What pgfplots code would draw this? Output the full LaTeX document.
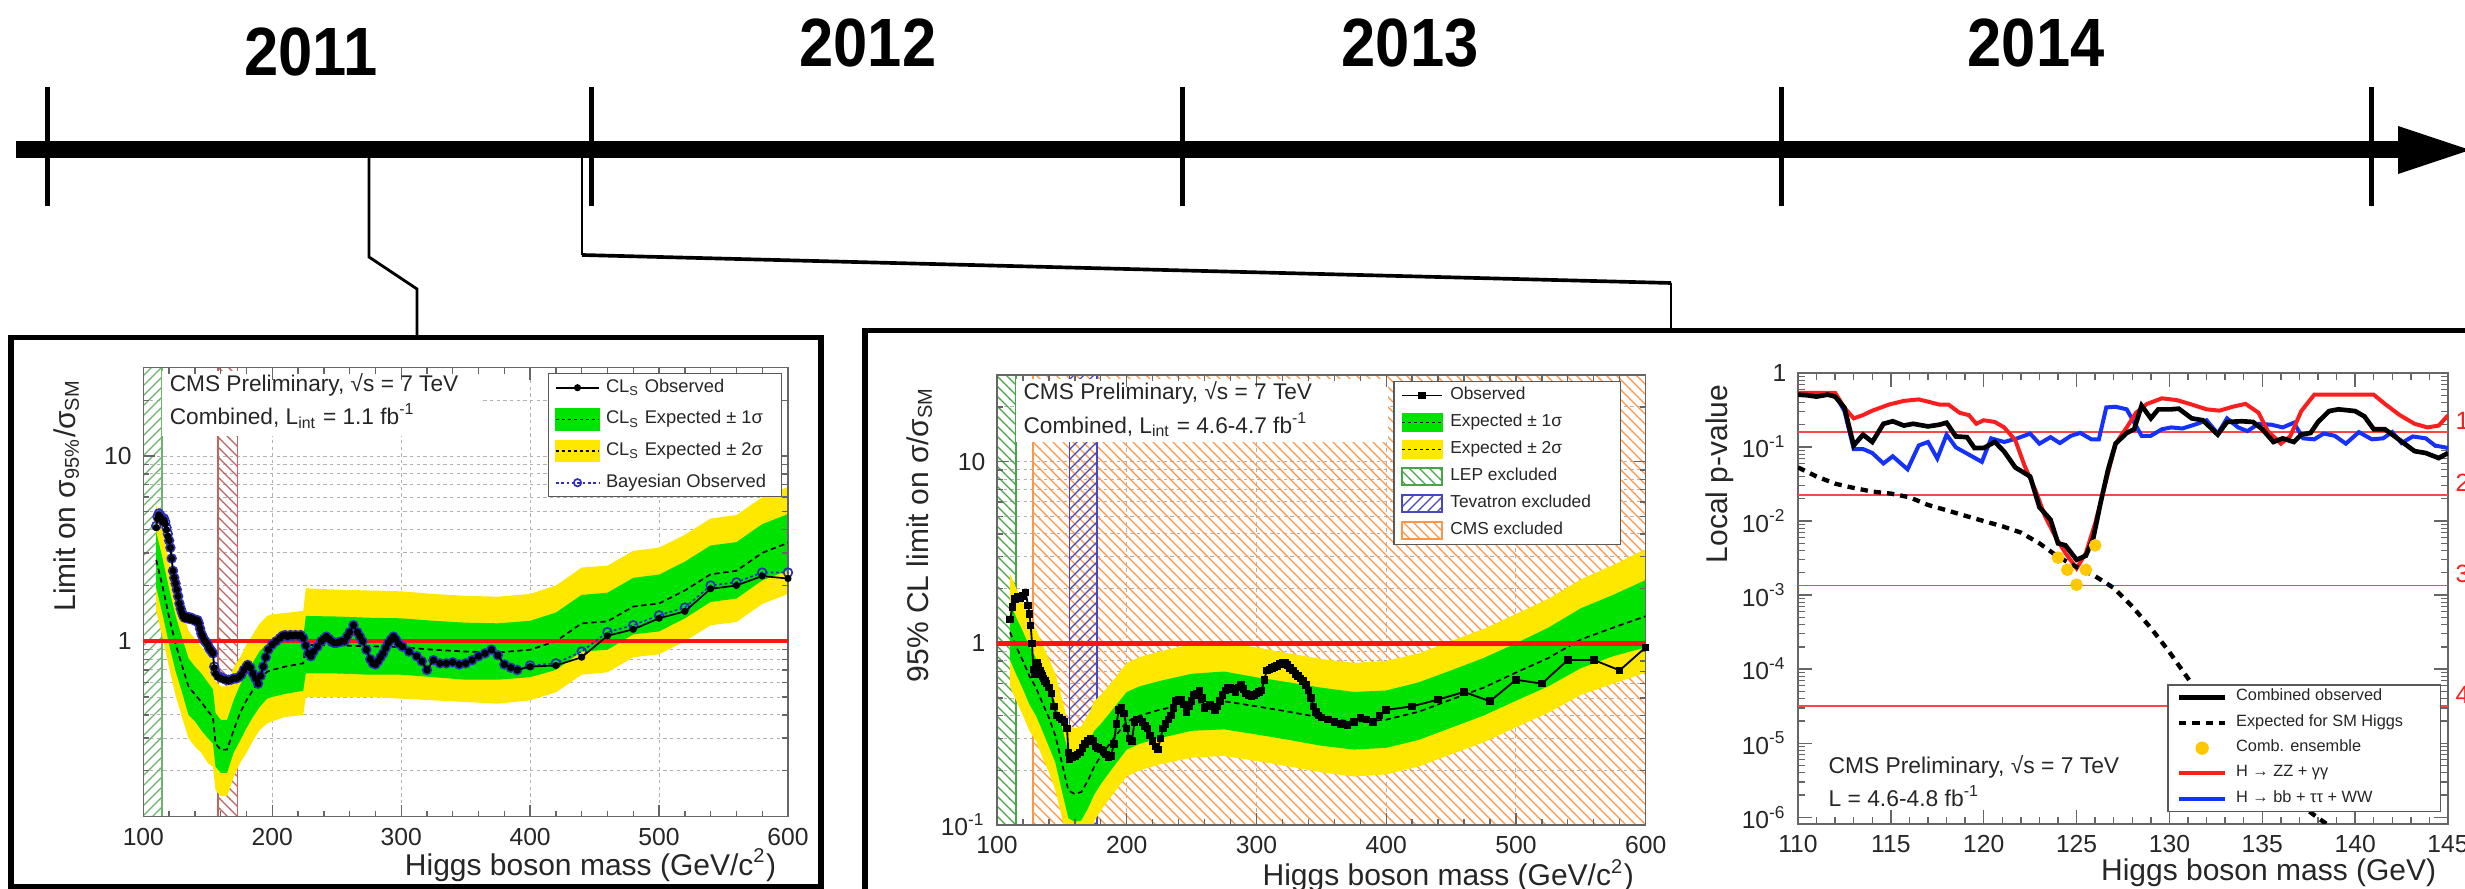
\documentclass[border=0pt]{standalone}
\usepackage{fontspec}
\setmainfont{Liberation Sans}
\newfontfamily\yearfont{Liberation Sans}[FakeStretch=0.9]
\usepackage{pgfplots}
\pgfplotsset{compat=1.18}
\usepackage{pgfplotstable}
\usepgfplotslibrary{fillbetween}
\usetikzlibrary{patterns}

\definecolor{bandgreen}{RGB}{0,226,0}
\definecolor{bandyellow}{RGB}{255,232,0}
\definecolor{limred}{RGB}{255,20,20}
\definecolor{lepA}{RGB}{110,180,110}
\definecolor{tevA}{RGB}{190,100,100}
\definecolor{lepB}{RGB}{70,165,70}
\definecolor{tevB}{RGB}{70,70,200}
\definecolor{cmsB}{RGB}{255,150,70}
\definecolor{bayes}{RGB}{45,45,190}
\definecolor{pred}{RGB}{250,30,30}
\definecolor{pblue}{RGB}{20,50,250}
\definecolor{sigred}{RGB}{255,70,70}
\definecolor{ensemble}{RGB}{255,200,0}

\newcommand\ls{\rule[-1.3pt]{0pt}{5.4pt}}
\newcommand\lsb{\rule[-1.2pt]{0pt}{4.8pt}}

\pgfplotsset{
  /pgf/number format/assume math mode=true,
  layers/rootlayers/.define layer set={
    axis background,axis grid,pre main,axis ticks,axis lines,axis tick labels,main,axis descriptions,axis foreground
  }{
    grid style={/pgfplots/on layer=axis grid},
    tick style={/pgfplots/on layer=axis ticks},
    axis line style={/pgfplots/on layer=axis lines},
    label style={/pgfplots/on layer=axis descriptions},
    legend style={/pgfplots/on layer=axis descriptions},
    title style={/pgfplots/on layer=axis descriptions},
    colorbar style={/pgfplots/on layer=axis descriptions},
    ticklabel style={/pgfplots/on layer=axis tick labels},
    axis background@ style={/pgfplots/on layer=axis background},
    3d box foreground style={/pgfplots/on layer=axis foreground},
  },
  leg line/.style={legend image code/.code={%
      \draw[mark repeat=2,mark phase=2,##1] plot coordinates {(0pt,0pt) (#1/2,0pt) (#1,0pt)};}},
  leg box/.style n args={3}{legend image code/.code={%
      \fill[#1] (0pt,-#3) rectangle (#2,#3);
      \draw[black, line width=0.45pt, dash pattern=on 0.9pt off 0.9pt] (0pt,0pt) -- (#2,0pt);}},
  leg hatch/.style n args={3}{legend image code/.code={%
      \draw[#1, line width=0.5pt, pattern=#3, pattern color=#1] (0pt,-2.6pt) rectangle (#2,2.6pt);}},
  leg dot/.style={legend image code/.code={\fill[ensemble] (6.9pt,0pt) circle (1.8pt);}},
  rootframe/.style={
    set layers=rootlayers, clip mode=individual,
    scale only axis, anchor=south west,
    tick align=inside, major tick length=3.6pt, minor tick length=1.8pt,
    axis line style={black!60, line width=0.45pt},
    tick style={black!60, line width=0.4pt},
    tick label style={font=\fontsize{7.4}{8}\selectfont, text=black!85},
    label style={font=\fontsize{9}{10}\selectfont, text=black!85},
    grid style={gray!60, line width=0.3pt, dash pattern=on 1pt off 1pt},
    legend cell align=left,
  },
}

% ---------------- 2011 combination ----------------
\pgfplotstableread{
m med lo2 lo1 hi1 hi2
110 2.75 1.46 1.95 3.9 5.5
115 1.96 1.04 1.39 2.78 3.92
120 1.35 0.72 0.96 1.92 2.70
125 0.97 0.51 0.69 1.38 1.94
130 0.74 0.39 0.53 1.05 1.48
135 0.57 0.30 0.40 0.81 1.14
140 0.516 0.27 0.37 0.73 1.03
145 0.47 0.25 0.33 0.67 0.94
150 0.42 0.22 0.30 0.60 0.84
154 0.39 0.21 0.28 0.55 0.78
156 0.28 0.157 0.21 0.41 0.61
160 0.26 0.146 0.195 0.377 0.57
165 0.26 0.146 0.195 0.377 0.57
170 0.33 0.185 0.25 0.48 0.72
175 0.41 0.22 0.29 0.58 0.82
180 0.48 0.25 0.34 0.68 0.96
185 0.545 0.29 0.39 0.77 1.09
190 0.62 0.33 0.44 0.88 1.24
196 0.685 0.36 0.49 0.97 1.37
200 0.70 0.37 0.50 0.96 1.40
210 0.73 0.39 0.52 1.00 1.42
224 0.76 0.40 0.54 1.04 1.46
226 0.955 0.50 0.67 1.37 1.93
250 0.95 0.50 0.67 1.36 1.90
275 0.94 0.50 0.66 1.34 1.88
300 0.93 0.49 0.66 1.33 1.86
325 0.90 0.48 0.64 1.29 1.80
350 0.88 0.47 0.62 1.26 1.76
375 0.87 0.46 0.62 1.25 1.74
400 0.90 0.48 0.64 1.29 1.80
420 1.0 0.53 0.70 1.43 2.0
440 1.25 0.66 0.88 1.78 2.5
460 1.28 0.68 0.90 1.83 2.56
480 1.54 0.82 1.09 2.2 3.08
500 1.6 0.85 1.13 2.29 3.2
520 1.88 1.0 1.33 2.69 3.76
540 2.3 1.22 1.63 3.29 4.6
560 2.4 1.27 1.70 3.43 4.8
580 3.0 1.59 2.13 4.29 6.0
600 3.4 1.80 2.41 4.86 6.8
}\expOne

\pgfplotstableread{
m cls bay
110 4.1 4.2
111 4.6 4.7
112 4.8 4.9
113 4.7 4.8
114 4.6 4.7
115 4.4 4.5
116 4.5 4.6
117 4.3 4.4
118 4.0 4.1
119 3.7 3.8
120 3.5 3.5
121 3.2 3.2
122 2.8 2.8
123 2.4 2.4
124 2.2 2.2
125 2.05 2.05
126 1.9 1.9
127 1.75 1.75
128 1.6 1.6
129 1.5 1.5
130 1.42 1.43
131 1.36 1.37
132 1.33 1.34
133 1.36 1.36
134 1.32 1.33
135 1.35 1.35
136 1.31 1.32
137 1.34 1.34
138 1.30 1.31
139 1.32 1.32
140 1.29 1.30
141 1.28 1.28
142 1.30 1.30
143 1.25 1.25
144 1.17 1.17
145 1.10 1.10
146 1.06 1.06
147 1.02 1.02
148 1.0 1.0
149 0.98 0.98
150 0.96 0.96
151 0.92 0.92
152 0.90 0.90
153 0.88 0.88
154 0.86 0.86
155 0.72 0.73
156 0.67 0.68
158 0.64 0.65
160 0.63 0.64
162 0.62 0.63
164 0.62 0.62
166 0.61 0.62
168 0.62 0.62
170 0.63 0.63
172 0.63 0.63
174 0.64 0.64
176 0.66 0.66
178 0.70 0.70
180 0.73 0.73
181 0.745 0.745
183 0.72 0.72
185 0.67 0.67
187 0.63 0.63
189 0.59 0.59
191 0.65 0.65
193 0.73 0.73
195 0.82 0.82
197 0.90 0.90
200 0.96 0.96
203 1.0 1.0
206 1.04 1.04
208 1.07 1.07
210 1.08 1.08
212 1.06 1.06
214 1.08 1.08
216 1.07 1.07
218 1.08 1.08
220 1.07 1.07
222 1.08 1.08
224 1.04 1.04
226 0.95 0.95
228 0.86 0.86
230 0.83 0.83
232 0.88 0.88
235 0.935 0.935
238 1.0 1.0
240 1.03 1.03
242 1.06 1.06
244 1.03 1.03
246 1.0 1.0
248 0.98 0.98
250 0.98 0.98
252 0.99 0.99
254 1.0 1.0
256 1.0 1.0
258 1.06 1.06
260 1.12 1.12
263 1.22 1.22
266 1.12 1.12
268 1.06 1.06
270 1.0 1.0
273 0.90 0.90
276 0.80 0.80
278 0.76 0.76
280 0.75 0.75
282 0.78 0.78
284 0.82 0.82
286 0.86 0.86
288 0.92 0.92
290 0.98 0.98
292 1.02 1.02
294 1.06 1.06
296 1.02 1.02
298 0.97 0.97
301 0.935 0.935
306 0.88 0.88
312 0.83 0.83
316 0.78 0.78
320 0.70 0.70
325 0.79 0.79
330 0.76 0.76
335 0.76 0.76
340 0.77 0.77
345 0.75 0.75
350 0.76 0.76
355 0.79 0.79
360 0.83 0.83
365 0.86 0.86
370 0.90 0.90
375 0.84 0.84
380 0.75 0.75
385 0.72 0.72
390 0.70 0.70
400 0.73 0.74
420 0.74 0.76
440 0.82 0.88
460 1.07 1.12
480 1.16 1.22
500 1.33 1.38
520 1.45 1.52
540 1.92 2.0
560 2.0 2.08
580 2.25 2.35
600 2.18 2.35
}\obsOne

% ---------------- 2011/2012 combination ----------------
\pgfplotstableread{
m med lo2 lo1 hi1 hi2
110 1.15 0.58 0.81 1.67 2.42
115 0.95 0.48 0.67 1.38 2.0
120 0.80 0.40 0.56 1.16 1.68
125 0.66 0.33 0.46 0.96 1.39
130 0.57 0.29 0.40 0.83 1.20
135 0.47 0.235 0.33 0.68 0.99
140 0.39 0.195 0.27 0.57 0.82
145 0.31 0.155 0.22 0.47 0.68
150 0.22 0.11 0.154 0.35 0.50
155 0.155 0.078 0.109 0.25 0.36
160 0.148 0.074 0.104 0.237 0.34
165 0.152 0.076 0.106 0.243 0.35
170 0.175 0.088 0.123 0.28 0.40
175 0.21 0.105 0.147 0.33 0.48
180 0.24 0.12 0.168 0.36 0.52
190 0.30 0.15 0.21 0.44 0.63
200 0.37 0.185 0.26 0.54 0.78
210 0.40 0.20 0.28 0.58 0.84
225 0.43 0.215 0.30 0.62 0.90
250 0.47 0.235 0.33 0.68 0.99
275 0.48 0.24 0.336 0.70 1.01
300 0.45 0.225 0.315 0.65 0.95
325 0.42 0.21 0.294 0.61 0.88
350 0.39 0.195 0.273 0.57 0.82
375 0.37 0.185 0.26 0.54 0.78
400 0.38 0.19 0.266 0.55 0.80
425 0.42 0.21 0.294 0.61 0.88
450 0.49 0.245 0.343 0.71 1.03
475 0.57 0.285 0.40 0.83 1.20
500 0.69 0.345 0.483 1.0 1.45
525 0.83 0.415 0.58 1.22 1.76
550 1.05 0.52 0.73 1.56 2.25
575 1.22 0.60 0.85 1.85 2.7
600 1.41 0.69 0.95 2.23 3.3
}\expTwo

\pgfplotstableread{
m obs
110 1.35
112 1.58
114 1.75
116 1.80
118 1.78
120 1.82
122 1.90
124 1.62
125 1.45
126 1.25
127 1.0
128 0.72
129 0.68
130 0.74
131 0.78
132 0.74
133 0.71
134 0.68
135 0.66
136 0.64
137 0.62
138 0.60
140 0.57
142 0.53
144 0.45
146 0.40
148 0.39
150 0.38
152 0.37
154 0.34
155 0.25
156 0.23
158 0.235
160 0.24
162 0.245
164 0.25
166 0.265
168 0.28
170 0.29
172 0.30
174 0.29
176 0.27
178 0.265
180 0.26
182 0.255
184 0.245
186 0.235
188 0.24
190 0.28
192 0.36
194 0.43
196 0.44
198 0.41
200 0.34
202 0.30
204 0.29
206 0.37
208 0.38
210 0.38
212 0.37
214 0.35
216 0.34
218 0.31
220 0.29
222 0.27
224 0.26
226 0.30
228 0.34
230 0.36
232 0.38
234 0.40
236 0.44
238 0.48
240 0.49
242 0.49
244 0.46
246 0.42
248 0.45
250 0.48
252 0.52
254 0.53
256 0.55
258 0.50
260 0.44
262 0.45
264 0.46
266 0.45
268 0.43
270 0.45
272 0.48
274 0.52
276 0.55
278 0.57
280 0.57
282 0.56
284 0.54
286 0.57
288 0.59
290 0.56
292 0.53
294 0.52
296 0.51
298 0.52
300 0.53
302 0.54
304 0.55
306 0.63
308 0.71
310 0.72
312 0.73
314 0.74
316 0.75
318 0.77
320 0.78
322 0.78
324 0.76
326 0.73
328 0.71
330 0.68
332 0.66
334 0.64
336 0.62
338 0.59
340 0.55
342 0.50
344 0.45
346 0.42
348 0.40
350 0.39
355 0.38
360 0.37
365 0.36
370 0.355
375 0.37
380 0.39
385 0.38
390 0.37
395 0.40
400 0.43
420 0.45
440 0.49
460 0.54
480 0.48
500 0.63
520 0.60
540 0.81
560 0.81
580 0.71
600 0.95
}\obsTwo

% ---------------- local p-values ----------------
\pgfplotstableread{
m p
110 0.51
110.5 0.50
111 0.48
111.6 0.51
112 0.48
112.5 0.34
113 0.105
113.5 0.147
114 0.117
114.6 0.206
115.1 0.223
115.7 0.195
116.2 0.206
117 0.19
117.6 0.20
118 0.213
118.5 0.139
119.1 0.136
119.5 0.097
120 0.097
120.6 0.117
121.1 0.087
121.7 0.053
122.5 0.040
123 0.0154
123.6 0.0104
124 0.0050
124.4 0.0047
125 0.0030
125.5 0.0034
125.9 0.0059
126.3 0.018
126.7 0.050
127.1 0.111
127.7 0.155
128.1 0.174
128.5 0.362
129 0.244
129.4 0.323
130.1 0.323
130.5 0.33
131.2 0.244
131.8 0.23
132.6 0.147
133.1 0.218
133.9 0.223
134.5 0.218
135 0.174
135.6 0.117
136.1 0.131
136.7 0.117
137.1 0.147
137.6 0.155
138 0.218
138.6 0.306
139.1 0.323
140 0.306
140.5 0.259
141 0.174
141.6 0.174
142.4 0.124
143.2 0.088
143.8 0.083
144.5 0.071
145 0.083
}\pComb

\pgfplotstableread{
m p
110 0.54
112 0.54
112.5 0.34
113 0.244
113.5 0.27
114 0.31
114.9 0.375
115.7 0.42
116.5 0.44
117 0.41
117.6 0.375
118.1 0.375
118.7 0.29
119.2 0.27
119.6 0.206
120 0.23
120.6 0.218
121.1 0.184
121.7 0.124
122.2 0.056
122.8 0.0255
123.3 0.0116
123.9 0.0059
124.4 0.0037
125 0.0023
125.5 0.0037
126 0.0093
126.6 0.036
127.1 0.111
127.7 0.184
128.2 0.29
128.8 0.383
129.6 0.455
130.4 0.43
131.2 0.375
132 0.323
132.7 0.31
133.4 0.35
134.1 0.383
134.8 0.29
135.3 0.164
136 0.111
136.5 0.139
137.1 0.306
137.8 0.51
138.6 0.51
140 0.51
141 0.51
141.6 0.383
142.4 0.27
143.2 0.206
143.9 0.184
144.5 0.195
145 0.267
}\pZZgg

\pgfplotstableread{
m p
110 0.51
112 0.51
112.5 0.306
113 0.094
113.5 0.094
114 0.083
114.6 0.060
115.1 0.075
115.9 0.050
116.5 0.105
117 0.117
117.5 0.070
118 0.147
118.5 0.099
119.2 0.079
119.9 0.063
120.4 0.131
121.1 0.117
121.8 0.131
122.5 0.152
123 0.111
123.6 0.136
124.1 0.113
124.7 0.142
125.2 0.155
125.8 0.127
126.2 0.127
126.6 0.343
127.1 0.35
127.7 0.323
128.5 0.142
129 0.142
129.6 0.174
130.1 0.184
130.7 0.178
131.5 0.206
132 0.23
132.6 0.152
133.1 0.244
133.7 0.184
134.2 0.164
134.8 0.206
135.5 0.20
136.1 0.184
136.7 0.213
137.2 0.131
137.8 0.127
138.3 0.152
138.9 0.142
139.5 0.111
140.2 0.159
140.9 0.127
141.5 0.131
142 0.159
142.5 0.113
143.1 0.139
143.8 0.131
144.3 0.105
145 0.097
}\pBTW

\pgfplotstableread{
m p
110 0.053
111 0.040
112 0.032
113 0.028
114 0.025
115 0.0235
116 0.021
117 0.0165
118 0.0140
119 0.0118
120 0.0100
121 0.0085
122 0.0070
123 0.0050
124 0.0033
125 0.0024
126 0.0018
127 0.00125
128 0.00070
129 0.00036
130 0.00017
131 0.000075
132 0.000032
133 0.000015
134 0.0000075
135 0.0000042
136 0.0000025
137 0.0000015
138 0.00000098
139 0.00000065
}\pExp

\pgfplotstableread{
m p
124.0 0.0032
124.5 0.0022
125.0 0.00138
125.5 0.0022
126.0 0.0047
}\pEns

\begin{document}
\begin{tikzpicture}

% timeline, frames and connectors (pixel grid, y downwards)
\begin{scope}[x=0.3pt,y=-0.3pt]
  \fill (16,141.5) rectangle (2402,158.5);
  \fill (2398,126) -- (2470,150) -- (2398,174) -- cycle;
  \foreach \t in {47,591,1182,1781,2371}
    \fill (\t-2.5,87) rectangle (\t+2.5,206);
  \begin{scope}[every node/.style={inner sep=0pt, font=\yearfont\bfseries\fontsize{20.5}{22}\selectfont}]
    \node at (311,52) {2011};
    \node at (868,43) {2012};
    \node at (1410,43) {2013};
    \node at (2036,43) {2014};
  \end{scope}
  \draw[line width=0.85pt] (369,158) -- (369,257) -- (417,289) -- (417,337);
  \draw[line width=0.85pt] (582,158) -- (582,255);
  \draw[line width=1.1pt] (582,255) -- (1671,283);
  \draw[line width=0.85pt] (1671,283) -- (1671,331);
  \draw[line width=1.7pt] (11,337.5) rectangle (821,886.5);
  \draw[line width=1.7pt] (865,330.5) rectangle (2530,960);
\end{scope}

% ================= left panel =================
\begin{axis}[rootframe,
  at={(43.0pt,-245.0pt)}, width=193.4pt, height=134.7pt,
  xmin=100, xmax=600, ymode=log, ymin=0.113, ymax=30,
  xtick={100,200,...,600}, minor x tick num=4,
  ytick={0.1,1,10,100},
  yticklabel={\ifdim\tick pt<-1pt 10\textsuperscript{-1}\else\ifdim\tick pt<1pt 1\else 10\fi\fi},
  xmajorgrids, ymajorgrids, yminorgrids,
  xlabel={Higgs boson mass (GeV/c\textsuperscript{2})},
  xlabel style={at={(axis description cs:1,0)}, anchor=base east, yshift=-17.6pt},
  ylabel={Limit on σ\textsubscript{95\%}/σ\textsubscript{SM}},
  ylabel style={at={(axis description cs:-0.1055,1)}, anchor=base east},
  legend style={at={(0.9907,0.988)}, anchor=north east, draw=black!65, line width=0.4pt, fill=white,
    font=\fontsize{5.5}{6}\selectfont, inner xsep=2pt, inner ysep=0.8pt, row sep=2.7pt, column sep=1.2pt,
    nodes={inner sep=0.6pt, text=black!85}},
]
  \addplot[on layer=pre main, forget plot, draw=lepA, line width=0.5pt, pattern=north east lines, pattern color=lepA]
    coordinates {(100,0.01) (114.4,0.01) (114.4,100) (100,100)} -- cycle;
  \addplot[on layer=pre main, forget plot, draw=tevA, line width=0.5pt, pattern=north west lines, pattern color=tevA]
    coordinates {(158,0.01) (173,0.01) (173,100) (158,100)} -- cycle;
  \addplot[on layer=pre main, forget plot, fill=white, draw=none]
    coordinates {(114.7,12.8) (361,12.8) (361,28.7) (114.7,28.7)} -- cycle;

  \addplot[name path=ahi2, draw=none, forget plot] table[x=m,y=hi2]{\expOne};
  \addplot[name path=alo2, draw=none, forget plot] table[x=m,y=lo2]{\expOne};
  \addplot[name path=ahi1, draw=none, forget plot] table[x=m,y=hi1]{\expOne};
  \addplot[name path=alo1, draw=none, forget plot] table[x=m,y=lo1]{\expOne};
  \addplot[bandyellow, forget plot] fill between[of=ahi2 and alo2];
  \addplot[bandgreen, forget plot] fill between[of=ahi1 and alo1];
  \addplot[black, line width=0.5pt, dash pattern=on 1.6pt off 1.1pt, forget plot] table[x=m,y=med]{\expOne};

  \addplot[limred, line width=1.2pt, forget plot] coordinates {(100,1) (600,1)};
  \addplot[bayes, line width=0.5pt, dash pattern=on 0.8pt off 0.8pt, mark=o, mark size=1.3pt,
    mark options={solid, line width=0.5pt}, forget plot] table[x=m,y=bay]{\obsOne};
  \addplot[black, line width=0.5pt, mark=*, mark size=0.8pt, forget plot] table[x=m,y=cls]{\obsOne};

  \node[anchor=base west, inner sep=0pt, font=\fontsize{6.8}{7}\selectfont, text=black!85]
    at (axis description cs:0.040,0.948) {CMS Preliminary, √s = 7 TeV};
  \node[anchor=base west, inner sep=0pt, font=\fontsize{6.8}{7}\selectfont, text=black!85]
    at (axis description cs:0.040,0.8724) {Combined, L\textsubscript{int} = 1.1 fb\textsuperscript{-1}};

  \addlegendimage{leg line=13pt, black, line width=0.5pt, mark=*, mark size=0.8pt}
  \addlegendentry{\ls CL\textsubscript{S} Observed}
  \addlegendimage{leg box={bandgreen}{13pt}{3.2pt}}
  \addlegendentry{\ls CL\textsubscript{S} Expected ± 1σ}
  \addlegendimage{leg box={bandyellow}{13pt}{3.2pt}}
  \addlegendentry{\ls CL\textsubscript{S} Expected ± 2σ}
  \addlegendimage{leg line=13pt, bayes, line width=0.5pt, dash pattern=on 0.8pt off 0.8pt, mark=o, mark size=1.1pt, mark options={solid}}
  \addlegendentry{\ls Bayesian Observed\hspace*{2pt}}
\end{axis}

% ================= middle panel =================
\begin{axis}[rootframe,
  at={(299.1pt,-247.5pt)}, width=194.6pt, height=135pt,
  xmin=100, xmax=600, ymode=log, ymin=0.1, ymax=30,
  xtick={100,200,...,600}, minor x tick num=4,
  ytick={0.1,1,10,100},
  yticklabel={\ifdim\tick pt<-1pt 10\textsuperscript{-1}\else\ifdim\tick pt<1pt 1\else 10\fi\fi},
  xmajorgrids, ymajorgrids, yminorgrids,
  xlabel={Higgs boson mass (GeV/c\textsuperscript{2})},
  xlabel style={at={(axis description cs:1,0)}, anchor=base east, yshift=-18.3pt},
  ylabel={95\% CL limit on σ/σ\textsubscript{SM}},
  ylabel style={at={(axis description cs:-0.106,1)}, anchor=base east},
  legend style={at={(0.962,0.9867)}, anchor=north east, draw=black!65, line width=0.4pt, fill=white,
    font=\fontsize{5.2}{6}\selectfont, inner xsep=2.2pt, inner ysep=0.8pt, row sep=1.3pt, column sep=1.6pt,
    nodes={inner sep=0.6pt, text=black!85}},
]
  \addplot[on layer=pre main, forget plot, draw=cmsB, line width=0.5pt, pattern=north west lines, pattern color=cmsB]
    coordinates {(127.5,0.01) (700,0.01) (700,100) (127.5,100)} -- cycle;
  \addplot[on layer=pre main, forget plot, draw=lepB, line width=0.5pt, pattern=north west lines, pattern color=lepB]
    coordinates {(100,0.01) (114.4,0.01) (114.4,100) (100,100)} -- cycle;
  \addplot[on layer=pre main, forget plot, draw=tevB, line width=0.5pt, pattern=north east lines, pattern color=tevB]
    coordinates {(156,0.01) (177,0.01) (177,100) (156,100)} -- cycle;
  \addplot[on layer=pre main, forget plot, fill=white, draw=none]
    coordinates {(115,12.8) (401,12.8) (401,28.7) (115,28.7)} -- cycle;

  \addplot[name path=bhi2, draw=none, forget plot] table[x=m,y=hi2]{\expTwo};
  \addplot[name path=blo2, draw=none, forget plot] table[x=m,y=lo2]{\expTwo};
  \addplot[name path=bhi1, draw=none, forget plot] table[x=m,y=hi1]{\expTwo};
  \addplot[name path=blo1, draw=none, forget plot] table[x=m,y=lo1]{\expTwo};
  \addplot[bandyellow, forget plot] fill between[of=bhi2 and blo2];
  \addplot[bandgreen, forget plot] fill between[of=bhi1 and blo1];
  \addplot[black, line width=0.5pt, dash pattern=on 1.6pt off 1.1pt, forget plot] table[x=m,y=med]{\expTwo};

  \addplot[limred, line width=1.4pt, forget plot] coordinates {(100,1) (600,1)};
  \addplot[black, line width=0.55pt, mark=square*, mark size=0.85pt, forget plot] table[x=m,y=obs]{\obsTwo};

  \node[anchor=base west, inner sep=0pt, font=\fontsize{6.8}{7}\selectfont, text=black!85]
    at (axis description cs:0.040,0.946) {CMS Preliminary, √s = 7 TeV};
  \node[anchor=base west, inner sep=0pt, font=\fontsize{6.8}{7}\selectfont, text=black!85]
    at (axis description cs:0.040,0.870) {Combined, L\textsubscript{int} = 4.6-4.7 fb\textsuperscript{-1}};

  \addlegendimage{leg line=12pt, black, line width=0.5pt, mark=square*, mark size=0.9pt}
  \addlegendentry{\ls Observed}
  \addlegendimage{leg box={bandgreen}{12pt}{2.7pt}}
  \addlegendentry{\ls Expected ± 1σ}
  \addlegendimage{leg box={bandyellow}{12pt}{2.7pt}}
  \addlegendentry{\ls Expected ± 2σ}
  \addlegendimage{leg hatch={lepB}{12pt}{north west lines}}
  \addlegendentry{\ls LEP excluded}
  \addlegendimage{leg hatch={tevB}{12pt}{north east lines}}
  \addlegendentry{\ls Tevatron excluded\hspace*{6pt}}
  \addlegendimage{leg hatch={cmsB}{12pt}{north west lines}}
  \addlegendentry{\ls CMS excluded}
\end{axis}

% ================= right panel =================
\begin{axis}[rootframe,
  at={(539.4pt,-247.2pt)}, width=195pt, height=135.3pt,
  xmin=110, xmax=145, ymode=log, ymin=8.1e-7, ymax=1,
  xtick={110,115,...,145}, minor x tick num=4,
  ytick={1e-6,1e-5,1e-4,1e-3,1e-2,1e-1,1},
  yticklabels={10\textsuperscript{-6},10\textsuperscript{-5},10\textsuperscript{-4},10\textsuperscript{-3},10\textsuperscript{-2},10\textsuperscript{-1},1},
  major tick length=4.2pt, minor tick length=2.1pt,
  xlabel={Higgs boson mass (GeV)},
  xlabel style={at={(axis description cs:1,0)}, anchor=base east, yshift=-17.1pt},
  ylabel={Local p-value},
  ylabel style={at={(axis description cs:-0.109,1)}, anchor=base east},
  legend style={at={(0.989,0.0266)}, anchor=south east, draw=black!65, line width=0.4pt, fill=white,
    font=\fontsize{4.9}{5.5}\selectfont, inner xsep=2.6pt, inner ysep=0.7pt, row sep=1.5pt, column sep=2.1pt,
    nodes={inner sep=0.5pt, text=black!85}},
]
  \addplot[sigred, line width=0.55pt, forget plot] coordinates {(110,0.1587) (145,0.1587)};
  \addplot[sigred, line width=0.55pt, forget plot] coordinates {(110,0.02275) (145,0.02275)};
  \addplot[sigred, line width=0.55pt, forget plot] coordinates {(110,0.00135) (145,0.00135)};
  \addplot[sigred, line width=0.55pt, forget plot] coordinates {(110,3.17e-5) (145,3.17e-5)};

  \addplot[pblue, line width=1.2pt, forget plot] table[x=m,y=p]{\pBTW};
  \addplot[pred, line width=1.2pt, forget plot] table[x=m,y=p]{\pZZgg};
  \addplot[black, line width=1.4pt, forget plot] table[x=m,y=p]{\pComb};
  \addplot[black, line width=1.3pt, dash pattern=on 2.2pt off 1.8pt, forget plot] table[x=m,y=p]{\pExp};
  \addplot[only marks, mark=*, mark size=1.7pt, ensemble, forget plot] table[x=m,y=p]{\pEns};

  \begin{scope}[every node/.style={anchor=base west, inner sep=0pt, xshift=2.1pt, yshift=0.8pt, text=pred, font=\fontsize{7.5}{8}\selectfont}]
    \node at (axis cs:145,0.1587) {1σ};
    \node at (axis cs:145,0.02275) {2σ};
    \node at (axis cs:145,0.00135) {3σ};
    \node at (axis cs:145,3.17e-5) {4σ};
  \end{scope}

  \node[anchor=base west, inner sep=0pt, font=\fontsize{6.85}{7}\selectfont, text=black!85]
    at (axis description cs:0.046,0.111) {CMS Preliminary, √s = 7 TeV};
  \node[anchor=base west, inner sep=0pt, font=\fontsize{6.85}{7}\selectfont, text=black!85]
    at (axis description cs:0.046,0.0377) {L = 4.6-4.8 fb\textsuperscript{-1}};

  \addlegendimage{leg line=13.8pt, black, line width=1.4pt}
  \addlegendentry{\lsb Combined observed}
  \addlegendimage{leg line=13.8pt, black, line width=1.3pt, dash pattern=on 2.2pt off 1.8pt}
  \addlegendentry{\lsb Expected for SM Higgs\hspace*{8pt}}
  \addlegendimage{leg dot}
  \addlegendentry{\lsb Comb. ensemble}
  \addlegendimage{leg line=13.8pt, pred, line width=1.2pt}
  \addlegendentry{\lsb H → ZZ + γγ}
  \addlegendimage{leg line=13.8pt, pblue, line width=1.2pt}
  \addlegendentry{\lsb H → bb + ττ + WW}
\end{axis}

% page area
\pgfresetboundingbox
\path[use as bounding box] (0pt,0pt) rectangle (739.5pt,-266.7pt);
\end{tikzpicture}
\end{document}
